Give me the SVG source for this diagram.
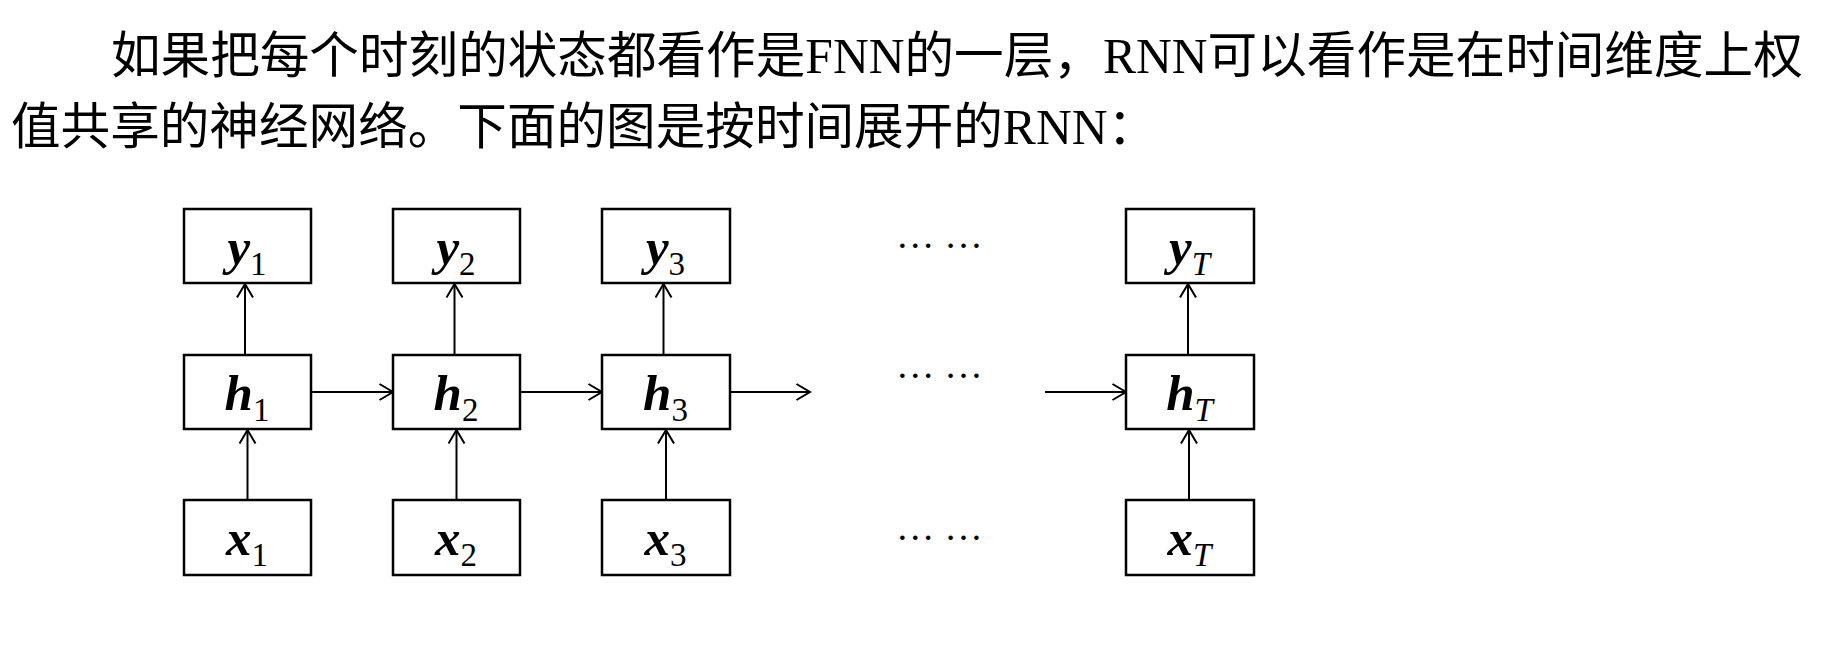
<svg xmlns="http://www.w3.org/2000/svg" width="1834" height="666" viewBox="0 0 1834 666">
<style>
.bg{fill:#fff}
.box{fill:#fff;stroke:#000;stroke-width:2.5}
.edge{stroke:#000;stroke-width:2;fill:none;marker-end:url(#arr)}
.para{font-family:"Liberation Serif","Noto Sans CJK SC",serif;font-size:49.6px;fill:#000}
.lbl{font-family:"Liberation Serif",serif;fill:#000;text-anchor:middle}
.v{font-size:51px;font-weight:bold;font-style:italic}
.s{font-size:33px}
.si{font-size:33px;font-style:italic}
.dots{font-family:"Liberation Serif",serif;font-size:38.5px;fill:#000}
</style>
<defs>
<marker id="arr" markerUnits="userSpaceOnUse" markerWidth="18" markerHeight="20" refX="15" refY="9" orient="auto">
<path d="M1.5,1 L15,9 L1.5,17" fill="none" stroke="#000" stroke-width="2"/>
</marker>
</defs>
<rect class="bg" x="0" y="0" width="1834" height="666"/>
<g id="caption">
<text class="para" x="111" y="73">如果把每个时刻的状态都看作是FNN的一层，RNN可以看作是在时间维度上权</text>
<text class="para" x="11" y="144">值共享的神经网络。下面的图是按时间展开的RNN：</text>
</g>
<g id="connectors">
<line class="edge" x1="245" y1="355" x2="245" y2="284"/>
<line class="edge" x1="247.5" y1="500" x2="247.5" y2="430"/>
<line class="edge" x1="454.5" y1="355" x2="454.5" y2="284"/>
<line class="edge" x1="456.5" y1="500" x2="456.5" y2="430"/>
<line class="edge" x1="663.5" y1="355" x2="663.5" y2="284"/>
<line class="edge" x1="666" y1="500" x2="666" y2="430"/>
<line class="edge" x1="1188" y1="355" x2="1188" y2="284"/>
<line class="edge" x1="1189" y1="500" x2="1189" y2="430"/>
<line class="edge" x1="311" y1="392" x2="393" y2="392"/>
<line class="edge" x1="520" y1="392" x2="602" y2="392"/>
<line class="edge" x1="730" y1="392" x2="810" y2="392"/>
<line class="edge" x1="1045" y1="392" x2="1126" y2="392"/>
</g>
<g id="y1"><rect class="box" x="184" y="209" width="127" height="74"/><text class="lbl" x="247" y="264"><tspan class="v">y</tspan><tspan class="s" dy="11">1</tspan></text></g>
<g id="y2"><rect class="box" x="393" y="209" width="127" height="74"/><text class="lbl" x="456" y="264"><tspan class="v">y</tspan><tspan class="s" dy="11">2</tspan></text></g>
<g id="y3"><rect class="box" x="602" y="209" width="128" height="74"/><text class="lbl" x="665.5" y="264"><tspan class="v">y</tspan><tspan class="s" dy="11">3</tspan></text></g>
<g id="yT"><rect class="box" x="1126" y="209" width="128" height="74"/><text class="lbl" x="1189.5" y="264"><tspan class="v">y</tspan><tspan class="si" dy="11">T</tspan></text></g>
<g id="h1"><rect class="box" x="184" y="355" width="127" height="74"/><text class="lbl" x="247" y="410"><tspan class="v">h</tspan><tspan class="s" dy="11">1</tspan></text></g>
<g id="h2"><rect class="box" x="393" y="355" width="127" height="74"/><text class="lbl" x="456" y="410"><tspan class="v">h</tspan><tspan class="s" dy="11">2</tspan></text></g>
<g id="h3"><rect class="box" x="602" y="355" width="128" height="74"/><text class="lbl" x="665.5" y="410"><tspan class="v">h</tspan><tspan class="s" dy="11">3</tspan></text></g>
<g id="hT"><rect class="box" x="1126" y="355" width="128" height="74"/><text class="lbl" x="1189.5" y="410"><tspan class="v">h</tspan><tspan class="si" dy="11">T</tspan></text></g>
<g id="x1"><rect class="box" x="184" y="500" width="127" height="75"/><text class="lbl" x="247" y="555"><tspan class="v">x</tspan><tspan class="s" dy="11">1</tspan></text></g>
<g id="x2"><rect class="box" x="393" y="500" width="127" height="75"/><text class="lbl" x="456" y="555"><tspan class="v">x</tspan><tspan class="s" dy="11">2</tspan></text></g>
<g id="x3"><rect class="box" x="602" y="500" width="128" height="75"/><text class="lbl" x="665.5" y="555"><tspan class="v">x</tspan><tspan class="s" dy="11">3</tspan></text></g>
<g id="xT"><rect class="box" x="1126" y="500" width="128" height="75"/><text class="lbl" x="1189.5" y="555"><tspan class="v">x</tspan><tspan class="si" dy="11">T</tspan></text></g>
<g id="ellipses">
<text class="dots" x="896" y="247.5">… …</text>
<text class="dots" x="896" y="378">… …</text>
<text class="dots" x="896" y="539.5">… …</text>
</g>
</svg>
